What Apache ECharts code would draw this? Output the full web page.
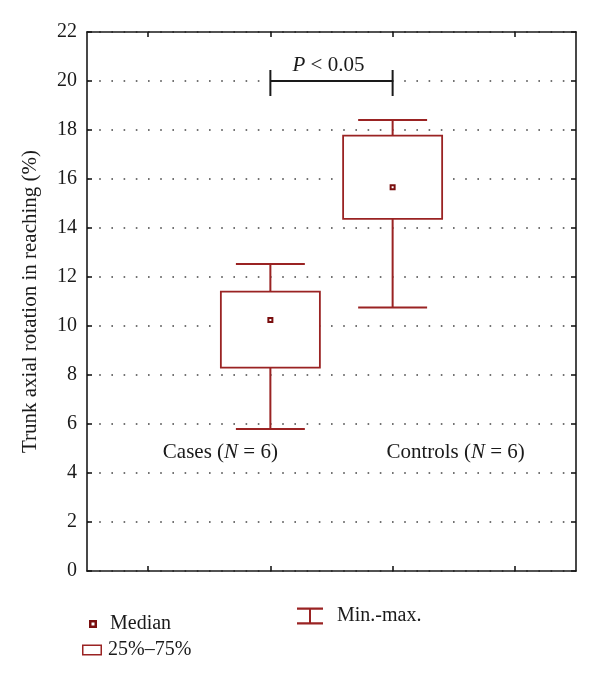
<!DOCTYPE html>
<html>
<head>
<meta charset="utf-8">
<script src="https://cdn.jsdelivr.net/npm/echarts@6/dist/echarts.min.js"></script>
<style>html,body{margin:0;padding:0;background:#fff;}#c{width:600px;height:680px;}</style>
</head>
<body>
<div id="c"></div>
<script>
// ---- data ----
const categories = ['Cases', 'Controls'];
const groupN = [6, 6];
const minVals = [5.8, 10.76];
const q1Vals = [8.3, 14.37];
const medianVals = [10.24, 15.66];
const q3Vals = [11.4, 17.77];
const maxVals = [12.53, 18.41];
const yMin = 0, yMax = 22, yStep = 2;
const bracketY = 20;
const pText = '{i|P} < 0.05';
const groupLabelY = 4.85;
const yTitle = 'Trunk axial rotation in reaching (%)';
const legendNames = ['Median', '25%\u201375%', 'Min.-max.'];

// ---- styling ----
const FONT = "'Liberation Serif', 'DejaVu Serif', serif";
const RED = '#9a2323';
const DARK = '#7a0f0f';
const INK = '#1a1a1a';

const axisCats = [''].concat(categories).concat([' ']);
const idx = categories.map((c, i) => i + 1);

const whiskerData = idx.map((x, i) => [x, minVals[i], q1Vals[i], q3Vals[i], maxVals[i]]);
const boxData = idx.map((x, i) => [x, q1Vals[i], q3Vals[i]]);
const medianData = idx.map((x, i) => [x, medianVals[i]]);
const labelData = idx.map((x, i) => [x, groupLabelY, i]);
const labelShift = [-50, 63];

const chart = echarts.init(document.getElementById('c'), null, {renderer: 'canvas'});

const baseX = {
  type: 'category',
  data: axisCats,
  boundaryGap: true,
  axisLine: {show: true, onZero: false, lineStyle: {color: INK, width: 1.6}},
  axisTick: {show: true, alignWithLabel: true, inside: true, length: 5, lineStyle: {color: INK, width: 1.6}},
  axisLabel: {show: false},
  splitLine: {show: false}
};

const option = {
  backgroundColor: '#fff',
  animation: false,
  textStyle: {fontFamily: FONT},
  grid: {left: 87, right: 24, top: 32, bottom: 109, containLabel: false},
  xAxis: [
    Object.assign({}, baseX, {position: 'bottom'}),
    Object.assign({}, baseX, {position: 'top'})
  ],
  yAxis: [
    {
      type: 'value', min: yMin, max: yMax, interval: yStep, position: 'left',
      axisLine: {show: true, onZero: false, lineStyle: {color: INK, width: 1.6}},
      axisTick: {show: true, inside: true, length: 5, lineStyle: {color: INK, width: 1.6}},
      axisLabel: {show: true, fontFamily: FONT, fontSize: 20, color: INK, margin: 10},
      splitLine: {show: true, lineStyle: {color: '#444', width: 1.6, type: [1.6, 10.6]}},
      name: yTitle, nameLocation: 'middle', nameGap: 46, nameRotate: 90,
      nameTextStyle: {fontFamily: FONT, fontSize: 21, color: INK}
    },
    {
      type: 'value', min: yMin, max: yMax, interval: yStep, position: 'right',
      axisLine: {show: true, onZero: false, lineStyle: {color: INK, width: 1.6}},
      axisTick: {show: true, inside: true, length: 5, lineStyle: {color: INK, width: 1.6}},
      axisLabel: {show: false},
      splitLine: {show: false}
    }
  ],
  legend: [
    {
      left: 89, top: 614, padding: 0, itemWidth: 8, itemHeight: 8, selectedMode: false,
      data: [{name: legendNames[0], icon: 'path://M0,0H8V8H0Z M2.5,2.5V5.5H5.5V2.5Z', itemStyle: {color: DARK, borderWidth: 0}}],
      textStyle: {fontFamily: FONT, fontSize: 20, color: INK, padding: [0, 0, 0, 8]}
    },
    {
      left: 82, top: 640, padding: 0, itemWidth: 20, itemHeight: 11, selectedMode: false,
      data: [{name: legendNames[1], icon: 'path://M0,0H20V11H0Z M1.5,1.5V9.5H18.5V1.5Z', itemStyle: {color: RED, borderWidth: 0}}],
      textStyle: {fontFamily: FONT, fontSize: 20, color: INK, padding: [0, 0, 0, 1]}
    },
    {
      left: 297, top: 606, padding: 0, itemWidth: 26, itemHeight: 17, selectedMode: false,
      data: [{name: legendNames[2], icon: 'path://M0,0H26V2.2H14V14.8H26V17H0V14.8H12V2.2H0Z', itemStyle: {color: RED, borderWidth: 0}}],
      textStyle: {fontFamily: FONT, fontSize: 20, color: INK, padding: [0, 0, 0, 9]}
    }
  ],
  series: [
    {
      name: legendNames[2],
      type: 'custom',
      xAxisIndex: 0, yAxisIndex: 0,
      encode: {x: 0, y: [1, 2, 3, 4]},
      itemStyle: {color: RED},
      data: whiskerData,
      z: 3,
      renderItem: function (params, api) {
        const x = api.value(0);
        const pLo = api.coord([x, api.value(1)]);
        const pQ1 = api.coord([x, api.value(2)]);
        const pQ3 = api.coord([x, api.value(3)]);
        const pHi = api.coord([x, api.value(4)]);
        const band = api.size([1, 0])[0];
        const half = band * 0.282;
        const st = {stroke: RED, lineWidth: 2, fill: null};
        return {
          type: 'group',
          children: [
            {type: 'line', shape: {x1: pLo[0], y1: pLo[1], x2: pQ1[0], y2: pQ1[1]}, style: st},
            {type: 'line', shape: {x1: pQ3[0], y1: pQ3[1], x2: pHi[0], y2: pHi[1]}, style: st},
            {type: 'line', shape: {x1: pLo[0] - half, y1: pLo[1], x2: pLo[0] + half, y2: pLo[1]}, style: st},
            {type: 'line', shape: {x1: pHi[0] - half, y1: pHi[1], x2: pHi[0] + half, y2: pHi[1]}, style: st}
          ]
        };
      }
    },
    {
      name: legendNames[1],
      type: 'custom',
      xAxisIndex: 0, yAxisIndex: 0,
      encode: {x: 0, y: [1, 2]},
      itemStyle: {color: RED},
      data: boxData,
      z: 4,
      renderItem: function (params, api) {
        const x = api.value(0);
        const pQ1 = api.coord([x, api.value(1)]);
        const pQ3 = api.coord([x, api.value(2)]);
        const band = api.size([1, 0])[0];
        const w = band * 0.81;
        return {
          type: 'rect',
          shape: {x: pQ3[0] - w / 2, y: pQ3[1], width: w, height: pQ1[1] - pQ3[1]},
          style: {fill: '#fff', stroke: RED, lineWidth: 1.8}
        };
      }
    },
    {
      name: legendNames[0],
      type: 'scatter',
      xAxisIndex: 0, yAxisIndex: 0,
      data: medianData,
      symbol: 'rect',
      symbolSize: 4,
      itemStyle: {color: '#fff', borderColor: DARK, borderWidth: 2, opacity: 1},
      z: 6,
      silent: true
    },
    {
      name: 'groupLabels',
      type: 'custom',
      xAxisIndex: 0, yAxisIndex: 0,
      encode: {x: 0, y: 1},
      data: labelData,
      silent: true,
      z: 7,
      renderItem: function (params, api) {
        const i = api.value(2);
        const p = api.coord([api.value(0), api.value(1)]);
        return {
          type: 'text',
          x: p[0] + labelShift[i], y: p[1],
          style: {
            text: categories[i] + ' ({i|N} = ' + groupN[i] + ')',
            fill: INK, font: '21px ' + FONT,
            align: 'center', verticalAlign: 'middle',
            rich: {i: {fontStyle: 'italic', fontFamily: FONT, fontSize: 21, fill: INK}}
          }
        };
      }
    },
    {
      name: 'bracket',
      type: 'custom',
      xAxisIndex: 0, yAxisIndex: 0,
      encode: {x: [0, 1], y: 2},
      data: [[idx[0], idx[1], bracketY]],
      z: 8,
      silent: true,
      renderItem: function (params, api) {
        const a = api.coord([api.value(0), api.value(2)]);
        const b = api.coord([api.value(1), api.value(2)]);
        const st = {stroke: INK, lineWidth: 2, fill: null};
        return {
          type: 'group',
          children: [
            {type: 'line', shape: {x1: a[0], y1: a[1], x2: b[0], y2: b[1]}, style: st},
            {type: 'line', shape: {x1: a[0], y1: a[1] - 11, x2: a[0], y2: a[1] + 15}, style: st},
            {type: 'line', shape: {x1: b[0], y1: b[1] - 11, x2: b[0], y2: b[1] + 15}, style: st},
            {
              type: 'text',
              x: (a[0] + b[0]) / 2 - 3, y: a[1] - 5,
              style: {
                text: pText, fill: INK, font: '21px ' + FONT,
                align: 'center', verticalAlign: 'bottom',
                rich: {i: {fontStyle: 'italic', fontFamily: FONT, fontSize: 21, fill: INK}}
              }
            }
          ]
        };
      }
    }
  ]
};

chart.setOption(option);
</script>
</body>
</html>
